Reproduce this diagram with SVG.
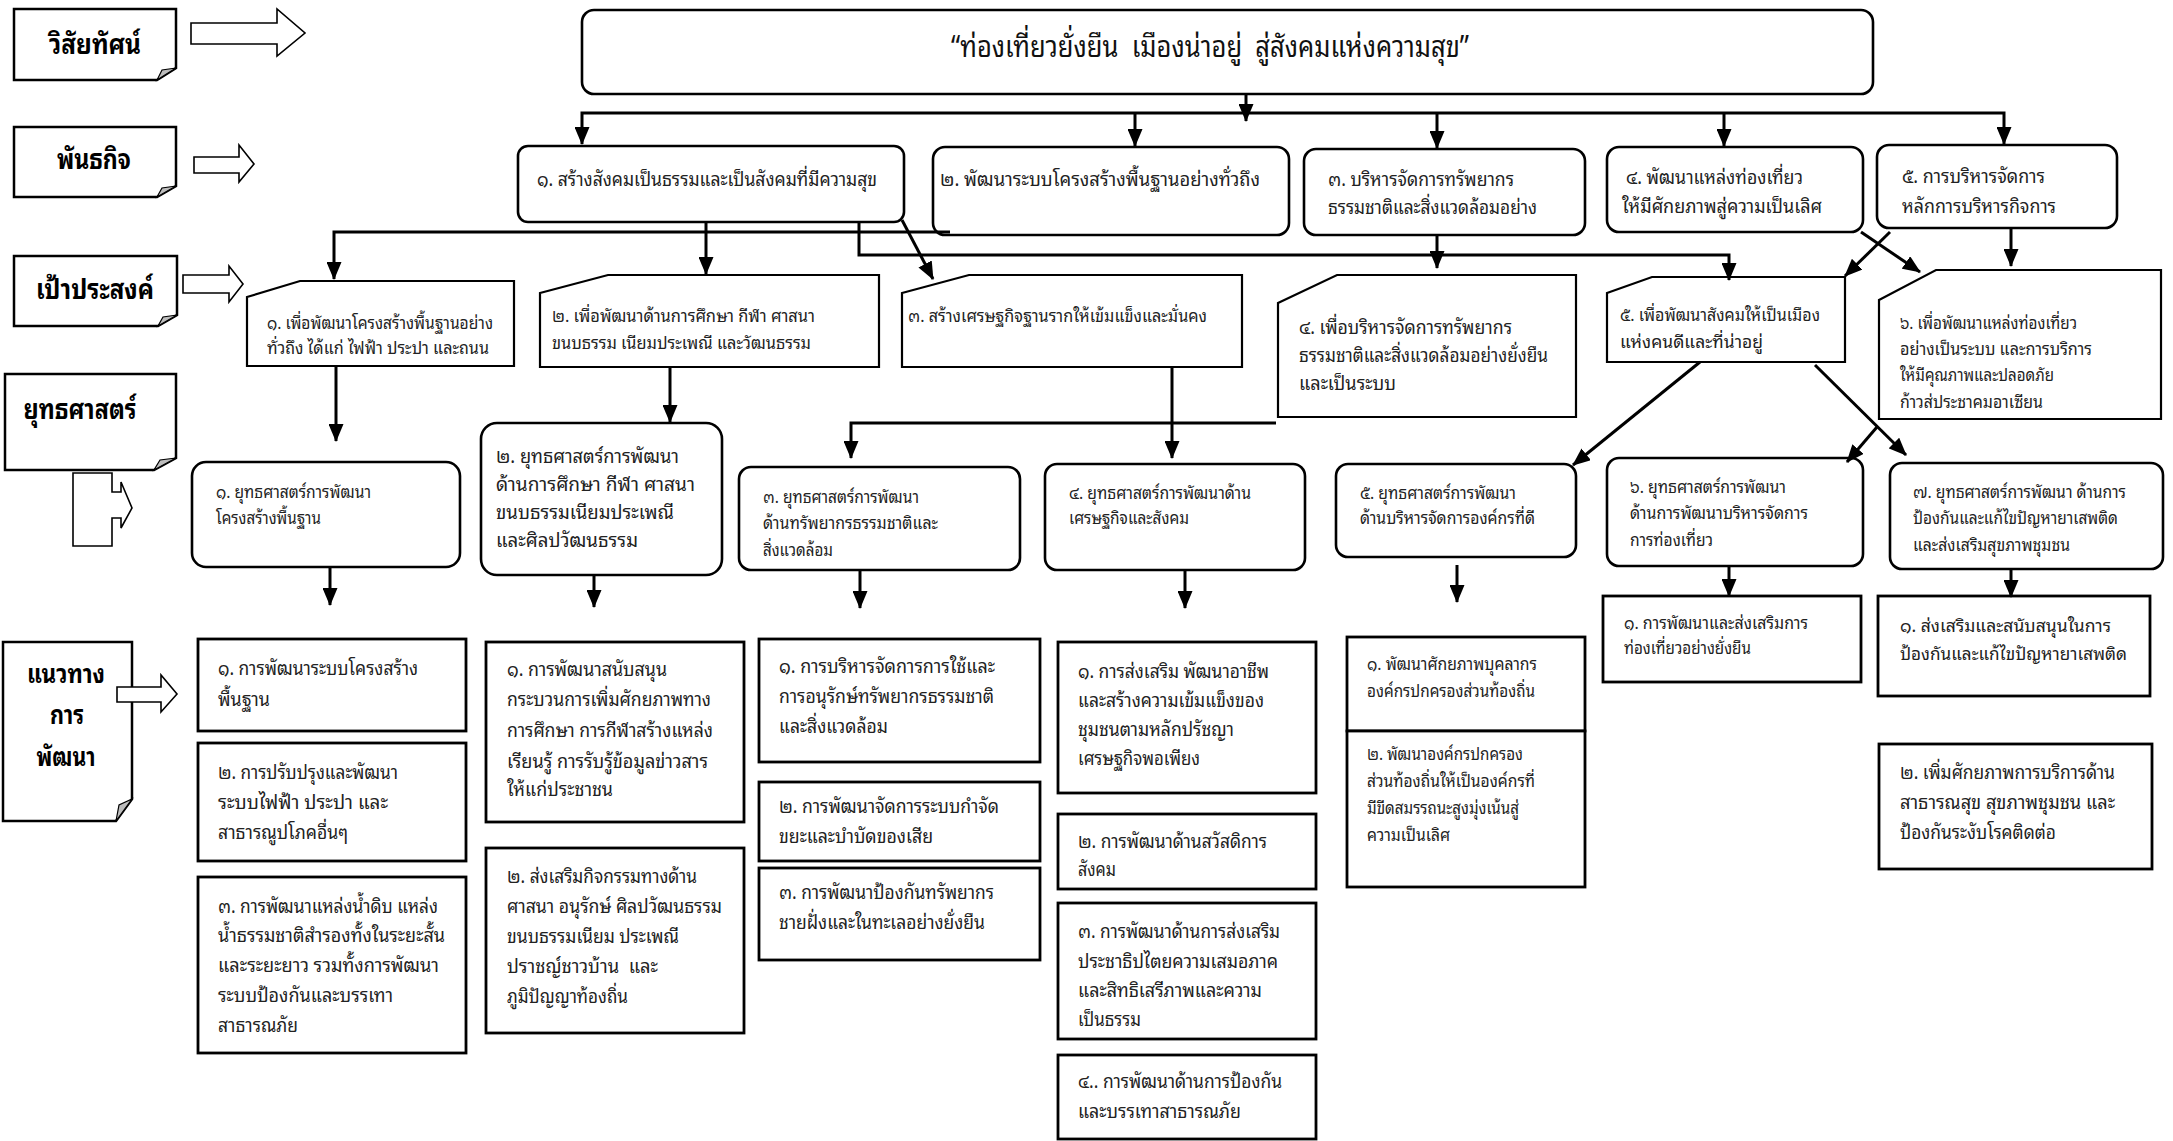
<svg xmlns="http://www.w3.org/2000/svg" width="2173" height="1141" viewBox="0 0 2173 1141">
<style>
.lbl{fill:#fff;stroke:#000;stroke-width:2.5}
.fold{fill:#bdbdbd;stroke:#000;stroke-width:1.2}
.barrow{fill:#fff;stroke:#000;stroke-width:1.6}
.rb{fill:#fff;stroke:#000;stroke-width:2.6}
.pb{fill:#fff;stroke:#000;stroke-width:2.2}
.gb{fill:#fff;stroke:#000;stroke-width:2.8}
.ht{font-family:"Noto Sans Thai Looped","Loma","Garuda","Noto Sans Thai","Noto Sans","DejaVu Sans",sans-serif;font-weight:bold;font-size:28px;fill:#000;text-anchor:middle}
.hs{font-size:26px}
.t{font-family:"Noto Sans Thai Looped","Loma","Garuda","Noto Sans Thai","Noto Sans","DejaVu Sans",sans-serif;font-size:19px;fill:#222}
.ts{font-family:"Noto Sans Thai Looped","Loma","Garuda","Noto Sans Thai","Noto Sans","DejaVu Sans",sans-serif;font-size:17px;fill:#222}
.tv{font-family:"Noto Sans Thai Looped","Loma","Garuda","Noto Sans Thai","Noto Sans","DejaVu Sans",sans-serif;font-size:30px;fill:#111;white-space:pre}
.c{fill:none;stroke:#000;stroke-width:3;marker-end:url(#ah)}
</style>
<defs>
<marker id="ah" viewBox="0 0 18 15" refX="17" refY="7.5" markerWidth="18" markerHeight="15" markerUnits="userSpaceOnUse" orient="auto">
<path d="M0,0 L18,7.5 L0,15 Z" fill="#000"/>
</marker>
</defs>
<rect width="2173" height="1141" fill="#fff"/>

<!-- Left level labels -->
<g id="label-vision">
<path class="lbl" d="M14,9 H176 V68 L157,80 H14 Z"/>
<path class="fold" d="M176,68 L157,80 L162,70 Z"/>
<text class="ht" x="95" y="54" textLength="92" lengthAdjust="spacingAndGlyphs">วิสัยทัศน์</text>
</g>
<g id="label-mission">
<path class="lbl" d="M14,127 H176 V186 L157,197 H14 Z"/>
<path class="fold" d="M176,186 L157,197 L162,188 Z"/>
<text class="ht" x="94" y="169" textLength="74" lengthAdjust="spacingAndGlyphs">พันธกิจ</text>
</g>
<g id="label-goal">
<path class="lbl" d="M14,256 H177 V315 L158,326 H14 Z"/>
<path class="fold" d="M177,315 L158,326 L163,317 Z"/>
<text class="ht" x="95" y="299" textLength="118" lengthAdjust="spacingAndGlyphs">เป้าประสงค์</text>
</g>
<g id="label-strategy">
<path class="lbl" d="M5,374 H176 V458 L154,470 H5 Z"/>
<path class="fold" d="M176,458 L154,470 L160,460 Z"/>
<text class="ht" x="80" y="419" textLength="113" lengthAdjust="spacingAndGlyphs">ยุทธศาสตร์</text>
</g>
<g id="label-guideline">
<path class="lbl" d="M3,642 H132 V799 L116,821 H3 Z"/>
<path class="fold" d="M132,799 L116,821 L119,805 Z"/>
<text class="ht hs" x="66" y="683" textLength="78" lengthAdjust="spacingAndGlyphs">แนวทาง</text>
<text class="ht hs" x="67" y="724" textLength="34" lengthAdjust="spacingAndGlyphs">การ</text>
<text class="ht hs" x="66" y="766" textLength="59" lengthAdjust="spacingAndGlyphs">พัฒนา</text>
</g>

<!-- Block arrows -->
<g id="block-arrows">
<path class="barrow" d="M191,23 H277 V9 L305,33 L277,56 V44 H191 Z"/>
<path class="barrow" d="M194,157 H239 V145 L254,164 L239,182 V173 H194 Z"/>
<path class="barrow" d="M183,275 H229 V266 L243,284 L229,302 V293 H183 Z"/>
<path class="barrow" d="M73,473 H112 V492 H121 V482 L132,508 L121,528 V518 H112 V546 H73 Z"/>
<path class="barrow" d="M117,687 H161 V675 L177,694 L161,712 V702 H117 Z"/>
</g>

<!-- Vision -->
<g id="vision">
<rect class="rb" x="582" y="10" width="1291" height="84" rx="12"/>
<text class="tv" x="951" y="57" textLength="518" lengthAdjust="spacingAndGlyphs">“ท่องเที่ยวยั่งยืน  เมืองน่าอยู่  สู่สังคมแห่งความสุข”</text>
</g>

<!-- Missions -->
<g id="mission-1">
<rect class="rb" x="518" y="146" width="386" height="76" rx="10"/>
<text class="t" x="537" y="186" textLength="340" lengthAdjust="spacingAndGlyphs">๑. สร้างสังคมเป็นธรรมและเป็นสังคมที่มีความสุข</text>
</g>
<g id="mission-2">
<rect class="rb" x="933" y="147" width="356" height="88" rx="12"/>
<text class="t" x="940" y="186" textLength="320" lengthAdjust="spacingAndGlyphs">๒. พัฒนาระบบโครงสร้างพื้นฐานอย่างทั่วถึง</text>
</g>
<g id="mission-3">
<rect class="rb" x="1304" y="149" width="281" height="86" rx="12"/>
<text class="t" x="1328" y="186" textLength="186" lengthAdjust="spacingAndGlyphs">๓. บริหารจัดการทรัพยากร</text>
<text class="t" x="1328" y="214" textLength="209" lengthAdjust="spacingAndGlyphs">ธรรมชาติและสิ่งแวดล้อมอย่าง</text>
</g>
<g id="mission-4">
<rect class="rb" x="1607" y="147" width="256" height="85" rx="12"/>
<text class="t" x="1626" y="184" textLength="177" lengthAdjust="spacingAndGlyphs">๔. พัฒนาแหล่งท่องเที่ยว</text>
<text class="t" x="1622" y="213" textLength="200" lengthAdjust="spacingAndGlyphs">ให้มีศักยภาพสู่ความเป็นเลิศ</text>
</g>
<g id="mission-5">
<rect class="rb" x="1877" y="145" width="240" height="83" rx="12"/>
<text class="t" x="1902" y="183" textLength="143" lengthAdjust="spacingAndGlyphs">๕. การบริหารจัดการ</text>
<text class="t" x="1902" y="213" textLength="154" lengthAdjust="spacingAndGlyphs">หลักการบริหารกิจการ</text>
</g>

<!-- Goals -->
<g id="goal-1">
<path class="pb" d="M247,297 L300,281 H514 V366 H247 Z"/>
<text class="ts" x="267" y="329" textLength="226" lengthAdjust="spacingAndGlyphs">๑. เพื่อพัฒนาโครงสร้างพื้นฐานอย่าง</text>
<text class="ts" x="267" y="354" textLength="222" lengthAdjust="spacingAndGlyphs">ทั่วถึง ได้แก่ ไฟฟ้า ประปา และถนน</text>
</g>
<g id="goal-2">
<path class="pb" d="M540,293 L608,275 H879 V367 H540 Z"/>
<text class="ts" x="552" y="322" textLength="263" lengthAdjust="spacingAndGlyphs">๒. เพื่อพัฒนาด้านการศึกษา กีฬา ศาสนา</text>
<text class="ts" x="552" y="349" textLength="259" lengthAdjust="spacingAndGlyphs">ขนบธรรม เนียมประเพณี และวัฒนธรรม</text>
</g>
<g id="goal-3">
<path class="pb" d="M902,293 L969,275 H1242 V367 H902 Z"/>
<text class="ts" x="908" y="322" textLength="299" lengthAdjust="spacingAndGlyphs">๓. สร้างเศรษฐกิจฐานรากให้เข้มแข็งและมั่นคง</text>
</g>
<g id="goal-4">
<path class="pb" d="M1278,303 L1337,275 H1576 V417 H1278 Z"/>
<text class="t" x="1299" y="334" textLength="213" lengthAdjust="spacingAndGlyphs">๔. เพื่อบริหารจัดการทรัพยากร</text>
<text class="t" x="1299" y="362" textLength="249" lengthAdjust="spacingAndGlyphs">ธรรมชาติและสิ่งแวดล้อมอย่างยั่งยืน</text>
<text class="t" x="1299" y="390" textLength="97" lengthAdjust="spacingAndGlyphs">และเป็นระบบ</text>
</g>
<g id="goal-5">
<path class="pb" d="M1607,293 L1652,277 H1845 V362 H1607 Z"/>
<text class="ts" x="1620" y="321" textLength="200" lengthAdjust="spacingAndGlyphs">๕. เพื่อพัฒนาสังคมให้เป็นเมือง</text>
<text class="ts" x="1620" y="348" textLength="143" lengthAdjust="spacingAndGlyphs">แห่งคนดีและที่น่าอยู่</text>
</g>
<g id="goal-6">
<path class="pb" d="M1879,300 L1936,270 H2161 V419 H1879 Z"/>
<text class="ts" x="1900" y="329" textLength="177" lengthAdjust="spacingAndGlyphs">๖. เพื่อพัฒนาแหล่งท่องเที่ยว</text>
<text class="ts" x="1900" y="355" textLength="192" lengthAdjust="spacingAndGlyphs">อย่างเป็นระบบ และการบริการ</text>
<text class="ts" x="1900" y="381" textLength="154" lengthAdjust="spacingAndGlyphs">ให้มีคุณภาพและปลอดภัย</text>
<text class="ts" x="1900" y="408" textLength="143" lengthAdjust="spacingAndGlyphs">ก้าวส่ประชาคมอาเซียน</text>
</g>

<!-- Strategies -->
<g id="strategy-1">
<rect class="rb" x="192" y="462" width="268" height="105" rx="14"/>
<text class="ts" x="216" y="498" textLength="155" lengthAdjust="spacingAndGlyphs">๑. ยุทธศาสตร์การพัฒนา</text>
<text class="ts" x="216" y="524" textLength="105" lengthAdjust="spacingAndGlyphs">โครงสร้างพื้นฐาน</text>
</g>
<g id="strategy-2">
<rect class="rb" x="481" y="423" width="241" height="152" rx="16"/>
<text class="t" x="496" y="463" textLength="183" lengthAdjust="spacingAndGlyphs">๒. ยุทธศาสตร์การพัฒนา</text>
<text class="t" x="496" y="491" textLength="199" lengthAdjust="spacingAndGlyphs">ด้านการศึกษา กีฬา ศาสนา</text>
<text class="t" x="496" y="519" textLength="178" lengthAdjust="spacingAndGlyphs">ขนบธรรมเนียมประเพณี</text>
<text class="t" x="496" y="547" textLength="142" lengthAdjust="spacingAndGlyphs">และศิลปวัฒนธรรม</text>
</g>
<g id="strategy-3">
<rect class="rb" x="739" y="467" width="281" height="103" rx="12"/>
<text class="ts" x="763" y="503" textLength="156" lengthAdjust="spacingAndGlyphs">๓. ยุทธศาสตร์การพัฒนา</text>
<text class="ts" x="763" y="529" textLength="175" lengthAdjust="spacingAndGlyphs">ด้านทรัพยากรธรรมชาติและ</text>
<text class="ts" x="763" y="556" textLength="70" lengthAdjust="spacingAndGlyphs">สิ่งแวดล้อม</text>
</g>
<g id="strategy-4">
<rect class="rb" x="1045" y="464" width="260" height="106" rx="12"/>
<text class="ts" x="1069" y="499" textLength="182" lengthAdjust="spacingAndGlyphs">๔. ยุทธศาสตร์การพัฒนาด้าน</text>
<text class="ts" x="1069" y="524" textLength="120" lengthAdjust="spacingAndGlyphs">เศรษฐกิจและสังคม</text>
</g>
<g id="strategy-5">
<rect class="rb" x="1336" y="464" width="240" height="93" rx="12"/>
<text class="ts" x="1360" y="499" textLength="156" lengthAdjust="spacingAndGlyphs">๕. ยุทธศาสตร์การพัฒนา</text>
<text class="ts" x="1360" y="524" textLength="175" lengthAdjust="spacingAndGlyphs">ด้านบริหารจัดการองค์กรที่ดี</text>
</g>
<g id="strategy-6">
<rect class="rb" x="1607" y="458" width="256" height="108" rx="12"/>
<text class="ts" x="1630" y="493" textLength="156" lengthAdjust="spacingAndGlyphs">๖. ยุทธศาสตร์การพัฒนา</text>
<text class="ts" x="1630" y="519" textLength="178" lengthAdjust="spacingAndGlyphs">ด้านการพัฒนาบริหารจัดการ</text>
<text class="ts" x="1630" y="546" textLength="83" lengthAdjust="spacingAndGlyphs">การท่องเที่ยว</text>
</g>
<g id="strategy-7">
<rect class="rb" x="1890" y="463" width="273" height="106" rx="12"/>
<text class="ts" x="1913" y="498" textLength="213" lengthAdjust="spacingAndGlyphs">๗. ยุทธศาสตร์การพัฒนา ด้านการ</text>
<text class="ts" x="1913" y="524" textLength="205" lengthAdjust="spacingAndGlyphs">ป้องกันและแก้ไขปัญหายาเสพติด</text>
<text class="ts" x="1913" y="551" textLength="157" lengthAdjust="spacingAndGlyphs">และส่งเสริมสุขภาพชุมชน</text>
</g>

<!-- Guidelines -->
<g id="guide-1-1">
<rect class="gb" x="198" y="639" width="268" height="92"/>
<text class="t" x="218" y="675" textLength="200" lengthAdjust="spacingAndGlyphs">๑. การพัฒนาระบบโครงสร้าง</text>
<text class="t" x="218" y="706" textLength="52" lengthAdjust="spacingAndGlyphs">พื้นฐาน</text>
</g>
<g id="guide-1-2">
<rect class="gb" x="198" y="743" width="268" height="118"/>
<text class="t" x="218" y="779" textLength="180" lengthAdjust="spacingAndGlyphs">๒. การปรับปรุงและพัฒนา</text>
<text class="t" x="218" y="809" textLength="170" lengthAdjust="spacingAndGlyphs">ระบบไฟฟ้า ประปา และ</text>
<text class="t" x="218" y="839" textLength="130" lengthAdjust="spacingAndGlyphs">สาธารณูปโภคอื่นๆ</text>
</g>
<g id="guide-1-3">
<rect class="gb" x="198" y="877" width="268" height="176"/>
<text class="t" x="218" y="913" textLength="220" lengthAdjust="spacingAndGlyphs">๓. การพัฒนาแหล่งน้ำดิบ แหล่ง</text>
<text class="t" x="218" y="942" textLength="227" lengthAdjust="spacingAndGlyphs">น้ำธรรมชาติสำรองทั้งในระยะสั้น</text>
<text class="t" x="218" y="972" textLength="221" lengthAdjust="spacingAndGlyphs">และระยะยาว รวมทั้งการพัฒนา</text>
<text class="t" x="218" y="1002" textLength="175" lengthAdjust="spacingAndGlyphs">ระบบป้องกันและบรรเทา</text>
<text class="t" x="218" y="1032" textLength="80" lengthAdjust="spacingAndGlyphs">สาธารณภัย</text>
</g>
<g id="guide-2-1">
<rect class="gb" x="486" y="642" width="258" height="180"/>
<text class="t" x="507" y="676" textLength="160" lengthAdjust="spacingAndGlyphs">๑. การพัฒนาสนับสนุน</text>
<text class="t" x="507" y="706" textLength="204" lengthAdjust="spacingAndGlyphs">กระบวนการเพิ่มศักยภาพทาง</text>
<text class="t" x="507" y="737" textLength="206" lengthAdjust="spacingAndGlyphs">การศึกษา การกีฬาสร้างแหล่ง</text>
<text class="t" x="507" y="768" textLength="201" lengthAdjust="spacingAndGlyphs">เรียนรู้ การรับรู้ข้อมูลข่าวสาร</text>
<text class="t" x="507" y="796" textLength="106" lengthAdjust="spacingAndGlyphs">ให้แก่ประชาชน</text>
</g>
<g id="guide-2-2">
<rect class="gb" x="486" y="848" width="258" height="185"/>
<text class="t" x="507" y="883" textLength="190" lengthAdjust="spacingAndGlyphs">๒. ส่งเสริมกิจกรรมทางด้าน</text>
<text class="t" x="507" y="913" textLength="215" lengthAdjust="spacingAndGlyphs">ศาสนา อนุรักษ์ ศิลปวัฒนธรรม</text>
<text class="t" x="507" y="943" textLength="172" lengthAdjust="spacingAndGlyphs">ขนบธรรมเนียม ประเพณี</text>
<text class="t" x="507" y="973" textLength="151" lengthAdjust="spacingAndGlyphs" style="white-space:pre">ปราชญ์ชาวบ้าน  และ</text>
<text class="t" x="507" y="1003" textLength="121" lengthAdjust="spacingAndGlyphs">ภูมิปัญญาท้องถิ่น</text>
</g>
<g id="guide-3-1">
<rect class="gb" x="759" y="639" width="281" height="123"/>
<text class="t" x="779" y="673" textLength="216" lengthAdjust="spacingAndGlyphs">๑. การบริหารจัดการการใช้และ</text>
<text class="t" x="779" y="703" textLength="215" lengthAdjust="spacingAndGlyphs">การอนุรักษ์ทรัพยากรธรรมชาติ</text>
<text class="t" x="779" y="733" textLength="109" lengthAdjust="spacingAndGlyphs">และสิ่งแวดล้อม</text>
</g>
<g id="guide-3-2">
<rect class="gb" x="759" y="782" width="281" height="79"/>
<text class="t" x="779" y="813" textLength="220" lengthAdjust="spacingAndGlyphs">๒. การพัฒนาจัดการระบบกำจัด</text>
<text class="t" x="779" y="843" textLength="154" lengthAdjust="spacingAndGlyphs">ขยะและบำบัดของเสีย</text>
</g>
<g id="guide-3-3">
<rect class="gb" x="759" y="868" width="281" height="92"/>
<text class="t" x="779" y="899" textLength="215" lengthAdjust="spacingAndGlyphs">๓. การพัฒนาป้องกันทรัพยากร</text>
<text class="t" x="779" y="929" textLength="206" lengthAdjust="spacingAndGlyphs">ชายฝั่งและในทะเลอย่างยั่งยืน</text>
</g>
<g id="guide-4-1">
<rect class="gb" x="1058" y="642" width="258" height="151"/>
<text class="t" x="1078" y="678" textLength="191" lengthAdjust="spacingAndGlyphs">๑. การส่งเสริม พัฒนาอาชีพ</text>
<text class="t" x="1078" y="707" textLength="186" lengthAdjust="spacingAndGlyphs">และสร้างความเข้มแข็งของ</text>
<text class="t" x="1078" y="736" textLength="156" lengthAdjust="spacingAndGlyphs">ชุมชนตามหลักปรัชญา</text>
<text class="t" x="1078" y="765" textLength="122" lengthAdjust="spacingAndGlyphs">เศรษฐกิจพอเพียง</text>
</g>
<g id="guide-4-2">
<rect class="gb" x="1058" y="814" width="258" height="75"/>
<text class="t" x="1078" y="848" textLength="189" lengthAdjust="spacingAndGlyphs">๒. การพัฒนาด้านสวัสดิการ</text>
<text class="t" x="1078" y="876" textLength="38" lengthAdjust="spacingAndGlyphs">สังคม</text>
</g>
<g id="guide-4-3">
<rect class="gb" x="1058" y="903" width="258" height="136"/>
<text class="t" x="1078" y="938" textLength="202" lengthAdjust="spacingAndGlyphs">๓. การพัฒนาด้านการส่งเสริม</text>
<text class="t" x="1078" y="968" textLength="200" lengthAdjust="spacingAndGlyphs">ประชาธิปไตยความเสมอภาค</text>
<text class="t" x="1078" y="997" textLength="184" lengthAdjust="spacingAndGlyphs">และสิทธิเสรีภาพและความ</text>
<text class="t" x="1078" y="1026" textLength="63" lengthAdjust="spacingAndGlyphs">เป็นธรรม</text>
</g>
<g id="guide-4-4">
<rect class="gb" x="1058" y="1055" width="258" height="84"/>
<text class="t" x="1078" y="1088" textLength="204" lengthAdjust="spacingAndGlyphs">๔.. การพัฒนาด้านการป้องกัน</text>
<text class="t" x="1078" y="1118" textLength="163" lengthAdjust="spacingAndGlyphs">และบรรเทาสาธารณภัย</text>
</g>
<g id="guide-5-1">
<rect class="gb" x="1347" y="637" width="238" height="94"/>
<text class="ts" x="1367" y="670" textLength="170" lengthAdjust="spacingAndGlyphs">๑. พัฒนาศักยภาพบุคลากร</text>
<text class="ts" x="1367" y="697" textLength="168" lengthAdjust="spacingAndGlyphs">องค์กรปกครองส่วนท้องถิ่น</text>
</g>
<g id="guide-5-2">
<rect class="gb" x="1347" y="731" width="238" height="156"/>
<text class="ts" x="1367" y="760" textLength="156" lengthAdjust="spacingAndGlyphs">๒. พัฒนาองค์กรปกครอง</text>
<text class="ts" x="1367" y="787" textLength="168" lengthAdjust="spacingAndGlyphs">ส่วนท้องถิ่นให้เป็นองค์กรที่</text>
<text class="ts" x="1367" y="814" textLength="152" lengthAdjust="spacingAndGlyphs">มีขีดสมรรถนะสูงมุ่งเน้นสู่</text>
<text class="ts" x="1367" y="841" textLength="83" lengthAdjust="spacingAndGlyphs">ความเป็นเลิศ</text>
</g>
<g id="guide-6-1">
<rect class="gb" x="1603" y="596" width="258" height="86"/>
<text class="ts" x="1624" y="629" textLength="184" lengthAdjust="spacingAndGlyphs">๑. การพัฒนาและส่งเสริมการ</text>
<text class="ts" x="1624" y="654" textLength="127" lengthAdjust="spacingAndGlyphs">ท่องเที่ยวอย่างยั่งยืน</text>
</g>
<g id="guide-7-1">
<rect class="gb" x="1878" y="596" width="272" height="100"/>
<text class="t" x="1900" y="632" textLength="211" lengthAdjust="spacingAndGlyphs" style="font-size:18px">๑. ส่งเสริมและสนับสนุนในการ</text>
<text class="t" x="1900" y="660" textLength="227" lengthAdjust="spacingAndGlyphs" style="font-size:18px">ป้องกันและแก้ไขปัญหายาเสพติด</text>
</g>
<g id="guide-7-2">
<rect class="gb" x="1879" y="744" width="273" height="125"/>
<text class="t" x="1900" y="779" textLength="215" lengthAdjust="spacingAndGlyphs">๒. เพิ่มศักยภาพการบริการด้าน</text>
<text class="t" x="1900" y="809" textLength="215" lengthAdjust="spacingAndGlyphs">สาธารณสุข สุขภาพชุมชน และ</text>
<text class="t" x="1900" y="839" textLength="156" lengthAdjust="spacingAndGlyphs">ป้องกันระงับโรคติดต่อ</text>
</g>

<!-- Connectors -->
<g id="connectors">
<path class="c" d="M1246,94 V121"/>
<path class="c" d="M1246,113 H582 V144"/>
<path class="c" d="M1246,113 H2004 V144"/>
<path class="c" d="M1135,113 V146"/>
<path class="c" d="M1437,113 V148"/>
<path class="c" d="M1724,113 V146"/>
<path class="c" d="M950,232 H334 V279"/>
<path class="c" d="M706,222 V274"/>
<path class="c" d="M902,220 L933,279"/>
<path class="c" d="M859,222 V255 H1729 V280"/>
<path class="c" d="M1437,235 V268"/>
<path class="c" d="M1861,232 L1920,272"/>
<path class="c" d="M1890,232 L1845,276"/>
<path class="c" d="M2011,228 V266"/>
<path class="c" d="M336,366 V441"/>
<path class="c" d="M670,367 V422"/>
<path class="c" d="M1172,367 V458"/>
<path class="c" d="M1276,423 H851 V458"/>
<path class="c" d="M1700,362 L1573,465"/>
<path class="c" d="M1815,365 L1906,455"/>
<path class="c" d="M1877,427 L1847,462"/>
<path class="c" d="M330,567 V605"/>
<path class="c" d="M594,575 V607"/>
<path class="c" d="M860,570 V608"/>
<path class="c" d="M1185,570 V608"/>
<path class="c" d="M1457,565 V602"/>
<path class="c" d="M1729,566 V596"/>
<path class="c" d="M2011,569 V597"/>
</g>
</svg>
